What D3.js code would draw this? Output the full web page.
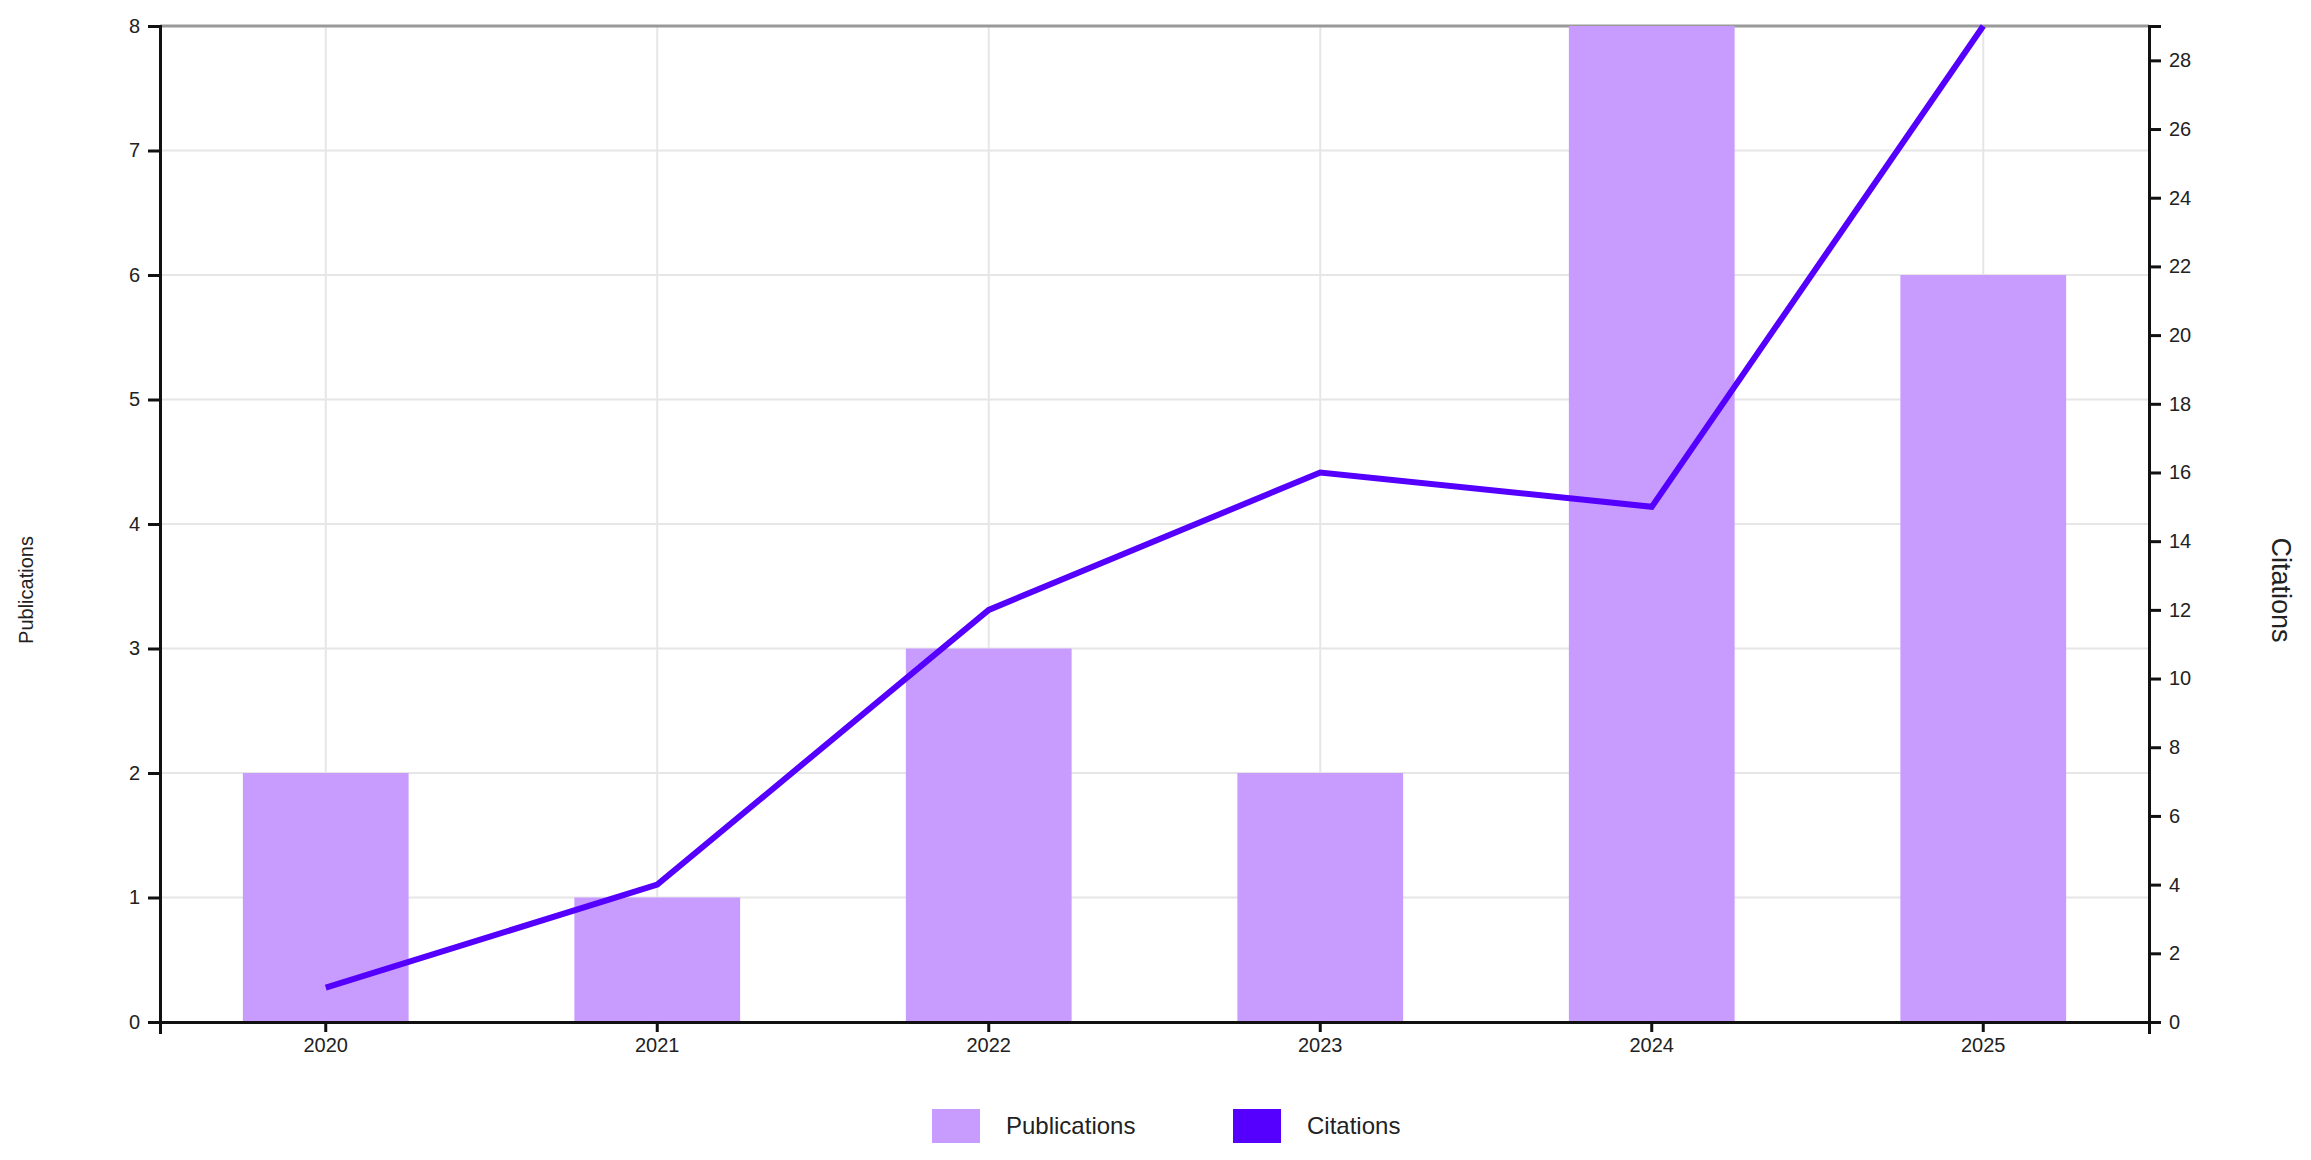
<!DOCTYPE html>
<html><head><meta charset="utf-8">
<script src="https://cdn.jsdelivr.net/npm/d3@7"></script>
<style>
body{margin:0;background:#fff;font-family:"Liberation Sans",Arial,sans-serif;}
.tick text{font-size:20px;fill:#222;}
</style></head>
<body><svg id="chart" width="2311" height="1160"></svg>
<script>
var years = ["2020","2021","2022","2023","2024","2025"];
var publications = [2, 1, 3, 2, 8, 6];
var citations = [1, 4, 12, 16, 15, 29];
var leftTicks = [0,1,2,3,4,5,6,7,8];
var rightTicks = d3.range(0, 30, 2);

var m = {left:160, right:2311-2149, top:26, bottom:1160-1022};
var W = 2311, H = 1160;
var svg = d3.select("#chart");

var x = d3.scaleBand().domain(years).range([m.left, W-m.right]).padding(0.5).paddingOuter(0.25);
var yL = d3.scaleLinear().domain([0,8]).range([H-m.bottom, m.top]);
var yR = d3.scaleLinear().domain([0,29]).range([H-m.bottom, m.top]);

//grid
svg.append("g").selectAll("line").data(leftTicks).enter().append("line")
  .attr("x1", m.left).attr("x2", W-m.right)
  .attr("y1", function(d){ return yL(d); }).attr("y2", function(d){ return yL(d); })
  .style("stroke", "#e6e6e6").style("stroke-width", 2);
svg.append("g").selectAll("line").data(years).enter().append("line")
  .attr("x1", function(d){ return x(d)+x.bandwidth()/2; })
  .attr("x2", function(d){ return x(d)+x.bandwidth()/2; })
  .attr("y1", m.top).attr("y2", H-m.bottom)
  .style("stroke", "#e6e6e6").style("stroke-width", 2);
svg.append("line").attr("x1", m.left).attr("x2", W-m.right).attr("y1", m.top).attr("y2", m.top)
  .style("stroke", "#999").style("stroke-width", 3);

//bars
svg.append("g").selectAll("rect").data(years).enter().append("rect")
  .attr("x", function(d){ return x(d); })
  .attr("width", x.bandwidth())
  .attr("y", function(d,i){ return yL(publications[i]); })
  .attr("height", function(d,i){ return yL(0)-yL(publications[i]); })
  .style("fill", "#c89bff");

//line
var line = d3.line()
  .x(function(d,i){ return x(years[i])+x.bandwidth()/2; })
  .y(function(d){ return yR(d); });
svg.append("path").datum(citations).attr("d", line)
  .style("fill", "none").style("stroke", "#5500ff").style("stroke-width", 6);

//axes
var ax = svg.append("g").attr("transform", "translate(0,"+(H-m.bottom)+")")
  .call(d3.axisBottom(x).tickSize(10).tickSizeOuter(12).tickPadding(6));
svg.append("g").attr("transform", "translate("+m.left+",0)")
  .call(d3.axisLeft(yL).tickValues(leftTicks).tickSize(12).tickSizeOuter(12).tickPadding(8));
svg.append("g").attr("transform", "translate("+(W-m.right)+",0)")
  .call(d3.axisRight(yR).tickValues(rightTicks).tickSize(12).tickSizeOuter(12).tickPadding(8));
svg.selectAll(".domain, .tick line").style("stroke", "#111").style("stroke-width", 3);

//axis titles
svg.append("text").attr("transform", "translate(33,590) rotate(-90)")
  .attr("text-anchor", "middle").style("font-size", "20px").style("fill", "#222").text("Publications");
svg.append("text").attr("transform", "translate(2272,590) rotate(90)")
  .attr("text-anchor", "middle").style("font-size", "27px").style("fill", "#222").text("Citations");

//legend
var legend = [{name:"Publications", color:"#c89bff", x:932}, {name:"Citations", color:"#5500ff", x:1233}];
var lg = svg.append("g").selectAll("g").data(legend).enter().append("g")
  .attr("transform", function(d){ return "translate("+d.x+",1109)"; });
lg.append("rect").attr("width", 48).attr("height", 34).style("fill", function(d){ return d.color; });
lg.append("text").attr("x", 74).attr("y", 25).style("font-size", "24px").style("fill", "#222")
  .text(function(d){ return d.name; });
</script>
</body></html>
